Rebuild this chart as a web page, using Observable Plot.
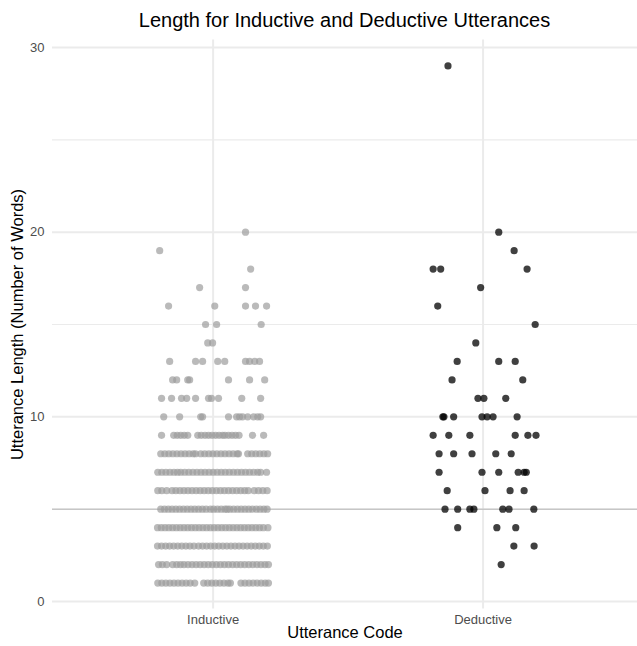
<!DOCTYPE html>
<html>
<head>
<meta charset="utf-8">
<script src="https://cdn.jsdelivr.net/npm/d3@7"></script>
<script src="https://cdn.jsdelivr.net/npm/@observablehq/plot@0.6"></script>
<style>
  html, body { margin: 0; padding: 0; background: #fff; }
  body { width: 637px; height: 646px; font-family: "Liberation Sans", Arial, sans-serif; }
  #title { width: 637px; padding-left: 52px; height: 36px; padding-top: 4px; box-sizing: border-box;
           line-height: 32px; text-align: center; font-size: 20px; color: #000; white-space: nowrap; }
</style>
</head>
<body>
<div id="title">Length for Inductive and Deductive Utterances</div>
<div id="chart"></div>
<script>
// ---- data ----
const categories = ["Inductive", "Deductive"];
const yTicks = [0, 10, 20, 30];
const yMinor = [5, 15, 25];
const referenceLine = [5];

// Inductive: utterance lengths and the horizontal jitter of each point (category units)
const inductiveLengths = [1,2,3,4,5,6,7,8,9,10,11,12,13,14,15,16,17,18,19,20];
const inductiveJitter = [
  [-0.205,-0.19,-0.175,-0.16,-0.145,-0.13,-0.115,-0.1,-0.085,-0.068,-0.035,-0.02,-0.005,0.01,0.025,0.04,0.055,0.064,0.103,0.118,0.133,0.148,0.163,0.178,0.193,0.205],
  [-0.202,-0.188,-0.172,-0.15,-0.135,-0.121,-0.108,-0.093,-0.078,-0.063,-0.048,-0.033,-0.018,-0.003,0.012,0.027,0.042,0.057,0.072,0.087,0.102,0.117,0.132,0.147,0.162,0.177,0.192,0.205],
  [-0.206,-0.191,-0.176,-0.161,-0.146,-0.131,-0.116,-0.101,-0.086,-0.071,-0.054,-0.039,-0.024,-0.009,0.006,0.021,0.036,0.051,0.066,0.081,0.096,0.111,0.126,0.141,0.156,0.171,0.186,0.201],
  [-0.206,-0.192,-0.178,-0.164,-0.15,-0.136,-0.122,-0.108,-0.094,-0.08,-0.066,-0.052,-0.038,-0.024,-0.01,0.004,0.018,0.032,0.046,0.06,0.074,0.088,0.102,0.116,0.13,0.144,0.158,0.172,0.186,0.203],
  [-0.194,-0.18,-0.166,-0.152,-0.138,-0.124,-0.11,-0.096,-0.082,-0.068,-0.054,-0.04,-0.026,-0.01,0.002,0.016,0.03,0.044,0.052,0.062,0.076,0.09,0.104,0.118,0.132,0.146,0.16,0.174,0.188,0.2],
  [-0.205,-0.19,-0.172,-0.152,-0.138,-0.123,-0.108,-0.093,-0.078,-0.063,-0.048,-0.033,-0.018,-0.003,0.012,0.027,0.042,0.057,0.072,0.087,0.102,0.117,0.13,0.152,0.168,0.184,0.2],
  [-0.205,-0.19,-0.175,-0.16,-0.145,-0.132,-0.12,-0.105,-0.09,-0.075,-0.06,-0.045,-0.03,-0.015,0,0.015,0.03,0.045,0.06,0.075,0.09,0.105,0.12,0.135,0.15,0.165,0.176,0.198],
  [-0.194,-0.179,-0.164,-0.149,-0.134,-0.119,-0.104,-0.089,-0.074,-0.065,-0.046,-0.031,-0.016,-0.001,0.014,0.029,0.044,0.059,0.074,0.089,0.094,0.128,0.143,0.158,0.173,0.188,0.202],
  [-0.191,-0.146,-0.133,-0.12,-0.107,-0.094,-0.057,-0.044,-0.03,-0.017,-0.004,0.009,0.022,0.035,0.044,0.057,0.07,0.083,0.096,0.146,0.187],
  [-0.183,-0.124,-0.046,-0.039,0.057,0.087,0.098,0.109,0.128,0.15,0.165,0.176],
  [-0.191,-0.154,-0.117,-0.098,-0.065,-0.017,-0.006,0.02,0.106,0.176],
  [-0.15,-0.135,-0.094,-0.087,0.057,0.135,0.191],
  [-0.161,-0.065,-0.039,0.017,0.043,0.12,0.135,0.154,0.172],
  [-0.02,-0.002],
  [-0.028,0.013,0.178],
  [-0.165,0.006,0.12,0.157,0.198],
  [-0.05,0.12],
  [0.139],
  [-0.198],
  [0.12]
];

// Deductive
const deductiveLengths = [2,3,4,5,6,7,8,9,10,11,12,13,14,15,16,17,18,19,20,29];
const deductiveJitter = [
  [0.067],
  [0.114,0.189],
  [-0.094,0.051,0.121],
  [-0.141,-0.094,-0.049,-0.034,0.073,0.096,0.188],
  [-0.133,0.007,0.1,0.152],
  [-0.163,-0.004,0.058,0.13,0.152,0.16],
  [-0.163,-0.109,-0.041,0.047,0.104],
  [-0.185,-0.127,-0.049,0.119,0.166,0.196],
  [-0.149,-0.145,-0.109,-0.004,0.015,0.037,0.126],
  [-0.019,0.003,0.084],
  [-0.115,0.147],
  [-0.096,0.058,0.119],
  [-0.027],
  [0.193],
  [-0.168],
  [-0.009],
  [-0.185,-0.157,0.163],
  [0.115],
  [0.058],
  [-0.13]
];

// ---- table ----
function build(code, lengths, jitter) {
  const idx = categories.indexOf(code) + 1;
  const rows = [];
  lengths.forEach((len, k) => jitter[k].forEach(j => rows.push({code, length: len, x: idx + j})));
  return rows;
}
const points = [
  ...build("Inductive", inductiveLengths, inductiveJitter),
  ...build("Deductive", deductiveLengths, deductiveJitter)
];

const grid = "#ebebeb";
const chart = Plot.plot({
  width: 637,
  height: 610,
  marginLeft: 52,
  marginRight: 0,
  marginTop: 3.6,
  marginBottom: 37.6,
  style: { fontFamily: "'Liberation Sans', Arial, sans-serif", fontSize: "13px", background: "#fff" },
  x: { domain: [0.405, 2.572] },
  y: { domain: [-0.4, 30.4] },
  color: { domain: categories, range: ["#9c9c9c", "#000000"] },
  marks: [
    Plot.ruleY(yMinor, { stroke: grid, strokeWidth: 1.2 }),
    Plot.ruleY(yTicks, { stroke: grid, strokeWidth: 2 }),
    Plot.ruleX([1, 2], { stroke: grid, strokeWidth: 2 }),
    Plot.ruleY(referenceLine, { stroke: "#b3b3b3", strokeWidth: 1 }),
    Plot.dot(points.filter(d => d.code === "Inductive"), { x: "x", y: "length", r: 3.6, fill: "code", fillOpacity: 0.7, stroke: "none" }),
    Plot.dot(points.filter(d => d.code === "Deductive"), { x: "x", y: "length", r: 3.6, fill: "code", fillOpacity: 0.75, stroke: "none" }),
    Plot.axisY({ ticks: yTicks, tickSize: 0, tickPadding: 8, label: null, color: "#4d4d4d", fontSize: 13 }),
    Plot.axisX({ ticks: [1, 2], tickFormat: d => categories[d - 1], tickSize: 0, tickPadding: 6, label: null, color: "#4d4d4d", fontSize: 13 }),
    Plot.text(["Utterance Length (Number of Words)"], { frameAnchor: "left", textAnchor: "middle", rotate: -90, dx: -35, fontSize: 16.5, fill: "#000" }),
    Plot.text(["Utterance Code"], { frameAnchor: "bottom", textAnchor: "middle", dy: 29, fontSize: 16.5, fill: "#000" })
  ]
});
document.getElementById("chart").appendChild(chart);
</script>
</body>
</html>
